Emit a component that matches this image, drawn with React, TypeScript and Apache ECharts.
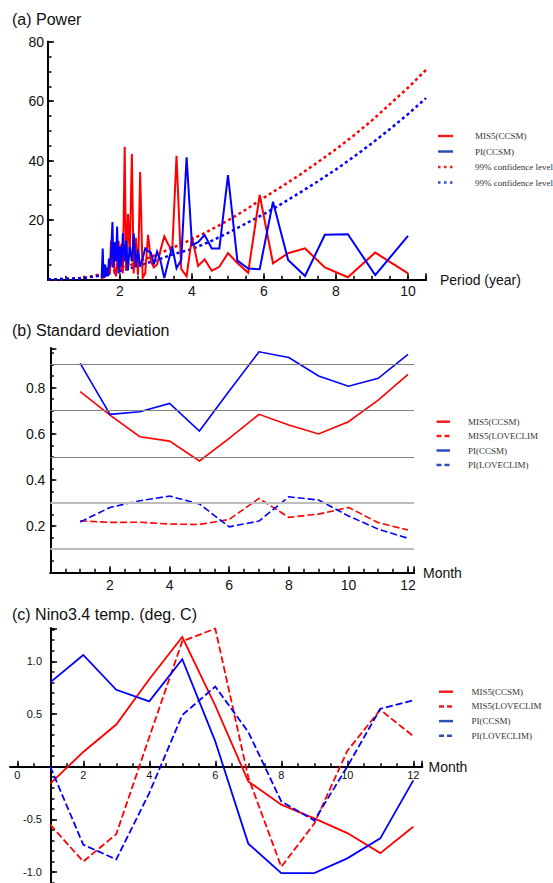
import React, { useEffect, useRef } from "react";
import * as echarts from "echarts";

// ---------- (a) Power spectrum (period in years) ----------
const periods = [
  10, 9.09, 8.33, 7.69, 7.14, 6.67, 6.25, 5.88, 5.56, 5.26,
  5.0, 4.76, 4.55, 4.35, 4.17, 4.0, 3.85, 3.7, 3.57, 3.45,
  3.33, 3.23, 3.13, 3.03, 2.94, 2.86, 2.78, 2.7, 2.63, 2.56,
  2.5, 2.44, 2.38, 2.33, 2.27, 2.22, 2.17, 2.13, 2.08, 2.04,
  2.0, 1.96, 1.92, 1.89, 1.85, 1.82, 1.79, 1.75, 1.72, 1.69,
  1.67, 1.64, 1.61, 1.59, 1.56, 1.54, 1.52, 1.49,
];
const powerMis5 = [
  2.0, 9.0, 0.7, 4.0, 10.4, 8.8, 5.4, 28.4, 2.2, 5.5,
  8.8, 4.2, 2.9, 6.7, 4.5, 14.3, 1.0, 3.5, 41.6, 9.5,
  12.0, 14.5, 10.0, 5.0, 4.0, 6.0, 15.0, 2.0, 0.5, 36.1,
  1.5, 14.0, 2.0, 42.2, 8.0, 22.0, 3.0, 44.6, 2.0, 12.0,
  4.0, 13.0, 5.0, 1.0, 3.0, 11.0, 4.0, 13.0, 2.0, 4.0,
  1.5, 3.0, 1.0, 2.0, 0.5, 1.5, 0.5, 1.0,
];
const powerPi = [
  14.6, 1.4, 15.2, 15.0, 1.1, 6.5, 26.1, 3.4, 3.6, 6.3,
  35.1, 10.4, 10.4, 14.9, 12.5, 11.5, 41.1, 6.5, 3.7, 11.0,
  5.4, 0.4, 6.0, 9.3, 5.0, 9.0, 9.5, 10.4, 7.0, 4.2,
  10.0, 4.0, 15.5, 6.0, 11.0, 3.0, 13.0, 6.0, 15.5, 4.0,
  11.0, 2.0, 17.8, 6.0, 12.5, 4.0, 19.3, 8.0, 4.0, 7.0,
  1.0, 4.0, 1.0, 5.0, 0.5, 2.0, 10.4, 0.5,
];
const confPeriods = [
  0, 0.5, 1, 1.5, 2, 2.5, 3, 3.5, 4, 4.5, 5,
  5.5, 6, 6.5, 7, 7.5, 8, 8.5, 9, 9.5, 10, 10.5,
];
const confMis5 = [
  0, 0.1, 0.5, 1.8, 3.5, 5.8, 8.2, 10.8, 13.5, 16.5, 19.8,
  23.5, 27.5, 31.3, 35.2, 39.5, 43.8, 48.5, 53.5, 59, 64.5, 70.5,
];
const confPi = [
  0, 0.1, 0.4, 1.4, 2.7, 4.5, 6.4, 8.5, 10.2, 12.7, 15.6,
  18.8, 22.0, 25.5, 29.2, 33, 37, 41.3, 45.8, 50.6, 55.6, 61,
];
const powerXLabels = [2, 4, 6, 8, 10];
const powerYLabels = [20, 40, 60, 80];

// ---------- (b) Standard deviation by month ----------
const months = [1, 2, 3, 4, 5, 6, 7, 8, 9, 10, 11, 12];
const sdMis5Ccsm = [0.782, 0.681, 0.587, 0.568, 0.482, 0.58, 0.684, 0.638, 0.599, 0.652, 0.746, 0.857];
const sdMis5Love = [0.223, 0.216, 0.217, 0.209, 0.207, 0.229, 0.32, 0.238, 0.252, 0.281, 0.215, 0.183];
const sdPiCcsm = [0.905, 0.684, 0.695, 0.731, 0.612, 0.785, 0.955, 0.93, 0.85, 0.806, 0.84, 0.944];
const sdPiLove = [0.218, 0.281, 0.31, 0.33, 0.296, 0.197, 0.222, 0.327, 0.313, 0.244, 0.187, 0.147];
const sdGridDark = [0.5, 0.7, 0.9];
const sdGridLight = [0.1, 0.3];
const sdXLabels = [2, 4, 6, 8, 10, 12];
const sdYLabels = [0.2, 0.4, 0.6, 0.8];

// ---------- (c) Nino3.4 temperature anomaly by month ----------
const ninoMis5Ccsm = [-0.16, 0.14, 0.4, 0.83, 1.23, 0.58, -0.14, -0.36, -0.49, -0.63, -0.82, -0.57];
const ninoMis5Love = [-0.55, -0.9, -0.64, 0.28, 1.19, 1.31, -0.1, -0.95, -0.54, 0.15, 0.54, 0.29];
const ninoPiCcsm = [0.8, 1.06, 0.73, 0.62, 1.02, 0.24, -0.73, -1.01, -1.01, -0.87, -0.68, -0.13];
const ninoPiLove = [0.0, -0.74, -0.88, -0.25, 0.49, 0.76, 0.33, -0.33, -0.51, 0.0, 0.55, 0.63];
const ninoXLabels = [0, 2, 4, 6, 8, 10, 12];
const ninoYLabels = [-1.0, -0.5, 0.5, 1.0];

const RED = "#ff0000";
const BLUE = "#0000ff";
const LEG_RED = "#f01e1e";
const LEG_BLUE = "#2d4fb4";
const SANS = "'Liberation Sans', Arial, Helvetica, sans-serif";
const SERIF = "'Liberation Serif', 'Times New Roman', serif";

// pixel scale of panel (c): 33 px per month, 105.4 px per degree
const C_TOP = 628.3;
const C_PX_PER_DEG = 105.4;
const C_YMAX = 1.313;

function zip(xs: number[], ys: number[]) {
  return xs.map((x, i) => [x, ys[i]]);
}

type AxisOpts = {
  gridIndex: number;
  min: number;
  max: number;
  interval: number;
  position: string;
  labels?: number[];
  fontSize?: number;
  margin?: number;
  fmt?: (v: number) => string;
  minor?: boolean;
};

// Tick-bearing axis: major axes carry the labels, minor axes only the short ticks.
function tickAxis(o: AxisOpts) {
  const minor = !!o.minor;
  return {
    type: "value",
    gridIndex: o.gridIndex,
    min: o.min,
    max: o.max,
    interval: o.interval,
    position: o.position,
    axisLine: { show: true, onZero: false, lineStyle: { color: "#000", width: 2 } },
    axisTick: {
      show: true,
      inside: true,
      length: minor ? 3.5 : 6,
      lineStyle: { color: "#000", width: 1.5 },
    },
    axisLabel: minor
      ? { show: false }
      : {
          show: true,
          customValues: o.labels,
          formatter: o.fmt ?? ((v: number) => String(v)),
          fontSize: o.fontSize,
          fontFamily: SANS,
          color: "#111",
          margin: o.margin,
        },
    splitLine: { show: false },
  };
}

function hiddenAxis(gridIndex: number, min: number, max: number) {
  return { type: "value", gridIndex, min, max, show: false, splitLine: { show: false } };
}

function lineSeries(name: string, axis: number, data: number[][], color: string, width: number, type: any) {
  return {
    type: "line",
    name,
    xAxisIndex: axis,
    yAxisIndex: axis,
    data,
    symbol: "none",
    clip: false,
    silent: true,
    z: 3,
    lineStyle: { color, width, type, cap: "butt", join: "miter" },
    itemStyle: { color },
  };
}

type LegendItem = { name: string; color: string; dash?: number[] };

function legendBlock(items: LegendItem[], x1: number, x2: number, textX: number, y0: number, dy: number) {
  const els: any[] = [];
  items.forEach((it, i) => {
    const y = y0 + i * dy;
    els.push({
      type: "line",
      silent: true,
      shape: { x1, y1: y, x2, y2: y },
      style: { stroke: it.color, lineWidth: 2.5, lineDash: it.dash ?? null },
    });
    els.push({
      type: "text",
      silent: true,
      x: textX,
      y,
      style: { text: it.name, fontSize: 9, fontFamily: SERIF, fill: "#333", verticalAlign: "middle" },
    });
  });
  return els;
}

function textEl(text: string, x: number, y: number, fontSize: number) {
  return {
    type: "text",
    silent: true,
    x,
    y,
    style: { text, fontSize, fontFamily: SANS, fill: "#111", verticalAlign: "middle" },
  };
}

const DOT = [3, 3];
const DASH = [7, 3];

function buildOption() {
  const fmt1 = (v: number) => v.toFixed(1);
  const cHeight = (lo: number) => (C_YMAX - lo) * C_PX_PER_DEG;
  return {
    animation: false,
    backgroundColor: "#ffffff",
    grid: [
      // (a)
      { left: 48, top: 41.7, width: 378, height: 237.6 },
      // (b)
      { left: 50.4, top: 348.3, width: 363.6, height: 224 },
      // (c) data area
      { left: 10, top: C_TOP, width: 412.2, height: cHeight(-1.103) },
      // (c) month axis, bottom edge on the zero line
      { left: 17.3, top: C_TOP, width: 404.9, height: cHeight(0) },
      // (c) temperature axis (major ticks), crossing at month 1
      { left: 51, top: C_TOP, width: 371.2, height: cHeight(-1.0) },
      // (c) temperature axis (minor ticks)
      { left: 51, top: C_TOP, width: 371.2, height: cHeight(-1.1) },
    ],
    xAxis: [
      tickAxis({ gridIndex: 0, min: 0, max: 10.5, interval: 2, position: "bottom", labels: powerXLabels, fontSize: 14, margin: 5 }),
      tickAxis({ gridIndex: 0, min: 0, max: 10.5, interval: 0.5, position: "bottom", minor: true }),
      tickAxis({ gridIndex: 1, min: 0, max: 12.2, interval: 2, position: "bottom", labels: sdXLabels, fontSize: 14, margin: 6 }),
      tickAxis({ gridIndex: 1, min: 0, max: 12.2, interval: 0.5, position: "bottom", minor: true }),
      {
        type: "value",
        gridIndex: 2,
        min: -0.22,
        max: 12.27,
        position: "bottom",
        axisLine: { show: true, onZero: true, lineStyle: { color: "#000", width: 2 } },
        axisTick: { show: false },
        axisLabel: { show: false },
        splitLine: { show: false },
      },
      tickAxis({ gridIndex: 3, min: 0, max: 12.27, interval: 2, position: "bottom", labels: ninoXLabels, fontSize: 11, margin: 3 }),
      tickAxis({ gridIndex: 3, min: 0, max: 12.27, interval: 0.5, position: "bottom", minor: true }),
      hiddenAxis(4, 0, 1),
      hiddenAxis(5, 0, 1),
    ],
    yAxis: [
      tickAxis({ gridIndex: 0, min: 0, max: 80, interval: 20, position: "left", labels: powerYLabels, fontSize: 14, margin: 4 }),
      tickAxis({ gridIndex: 0, min: 0, max: 80, interval: 5, position: "left", minor: true }),
      tickAxis({ gridIndex: 1, min: 0, max: 0.97, interval: 0.2, position: "left", labels: sdYLabels, fontSize: 14, margin: 5, fmt: fmt1 }),
      tickAxis({ gridIndex: 1, min: 0, max: 0.97, interval: 0.05, position: "left", minor: true }),
      hiddenAxis(2, -1.103, C_YMAX),
      hiddenAxis(3, 0, 1),
      tickAxis({ gridIndex: 4, min: -1.0, max: C_YMAX, interval: 0.5, position: "left", labels: ninoYLabels, fontSize: 11, margin: 9, fmt: fmt1 }),
      tickAxis({ gridIndex: 5, min: -1.1, max: C_YMAX, interval: 0.1, position: "left", minor: true }),
    ],
    series: [
      // (a)
      lineSeries("99% confidence level (MIS5)", 0, zip(confPeriods, confMis5), RED, 2.5, DOT),
      lineSeries("99% confidence level (PI)", 0, zip(confPeriods, confPi), BLUE, 2.5, DOT),
      lineSeries("MIS5(CCSM)", 0, zip(periods, powerMis5), RED, 2, "solid"),
      lineSeries("PI(CCSM)", 0, zip(periods, powerPi), BLUE, 2, "solid"),
      // (b) reference lines
      {
        type: "line",
        name: "sd-grid",
        xAxisIndex: 2,
        yAxisIndex: 2,
        data: [],
        silent: true,
        z: 1,
        markLine: {
          symbol: ["none", "none"],
          silent: true,
          animation: false,
          label: { show: false },
          data: [
            ...sdGridDark.map((v) => ({ yAxis: v, lineStyle: { color: "#808080", width: 1, type: "solid" } })),
            ...sdGridLight.map((v) => ({ yAxis: v, lineStyle: { color: "#bdbdbd", width: 2, type: "solid" } })),
          ],
        },
      },
      lineSeries("MIS5(CCSM) sd", 2, zip(months, sdMis5Ccsm), RED, 1.6, "solid"),
      lineSeries("MIS5(LOVECLIM) sd", 2, zip(months, sdMis5Love), RED, 1.6, DASH),
      lineSeries("PI(CCSM) sd", 2, zip(months, sdPiCcsm), BLUE, 1.6, "solid"),
      lineSeries("PI(LOVECLIM) sd", 2, zip(months, sdPiLove), BLUE, 1.6, DASH),
      // (c)
      lineSeries("MIS5(CCSM) nino", 4, zip(months, ninoMis5Ccsm), RED, 1.8, "solid"),
      lineSeries("MIS5(LOVECLIM) nino", 4, zip(months, ninoMis5Love), RED, 1.8, DASH),
      lineSeries("PI(CCSM) nino", 4, zip(months, ninoPiCcsm), BLUE, 1.8, "solid"),
      lineSeries("PI(LOVECLIM) nino", 4, zip(months, ninoPiLove), BLUE, 1.8, DASH),
    ],
    graphic: [
      textEl("(a) Power", 12, 19, 16),
      textEl("(b) Standard deviation", 12, 330.7, 16),
      textEl("(c) Nino3.4 temp. (deg. C)", 12, 614, 16),
      textEl("Period (year)", 440, 280, 14),
      textEl("Month", 423, 572.5, 14),
      textEl("Month", 428.5, 766.5, 14),
      ...legendBlock(
        [
          { name: "MIS5(CCSM)", color: LEG_RED },
          { name: "PI(CCSM)", color: LEG_BLUE },
          { name: "99% confidence level", color: LEG_RED, dash: [2.5, 3.5] },
          { name: "99% confidence level", color: "#3050d0", dash: [2.5, 3.5] },
        ],
        438, 453, 475, 136, 15.5
      ),
      ...legendBlock(
        [
          { name: "MIS5(CCSM)", color: LEG_RED },
          { name: "MIS5(LOVECLIM", color: LEG_RED, dash: [5, 3] },
          { name: "PI(CCSM)", color: LEG_BLUE },
          { name: "PI(LOVECLIM)", color: LEG_BLUE, dash: [5, 3] },
        ],
        436.5, 450, 468, 421.7, 14.4
      ),
      ...legendBlock(
        [
          { name: "MIS5(CCSM)", color: LEG_RED },
          { name: "MIS5(LOVECLIM", color: LEG_RED, dash: [5, 3] },
          { name: "PI(CCSM)", color: LEG_BLUE },
          { name: "PI(LOVECLIM)", color: LEG_BLUE, dash: [5, 3] },
        ],
        439, 453, 471.5, 691.7, 14.7
      ),
    ],
  };
}

export default function App() {
  const ref = useRef<HTMLDivElement>(null);
  useEffect(() => {
    document.body.style.margin = "0";
    const chart = echarts.init(ref.current!, null, { renderer: "svg" });
    chart.setOption(buildOption() as any);
    return () => chart.dispose();
  }, []);
  return (
    <div
      ref={ref}
      style={{ position: "absolute", left: 0, top: 0, width: 553, height: 883, background: "#fff" }}
    />
  );
}
